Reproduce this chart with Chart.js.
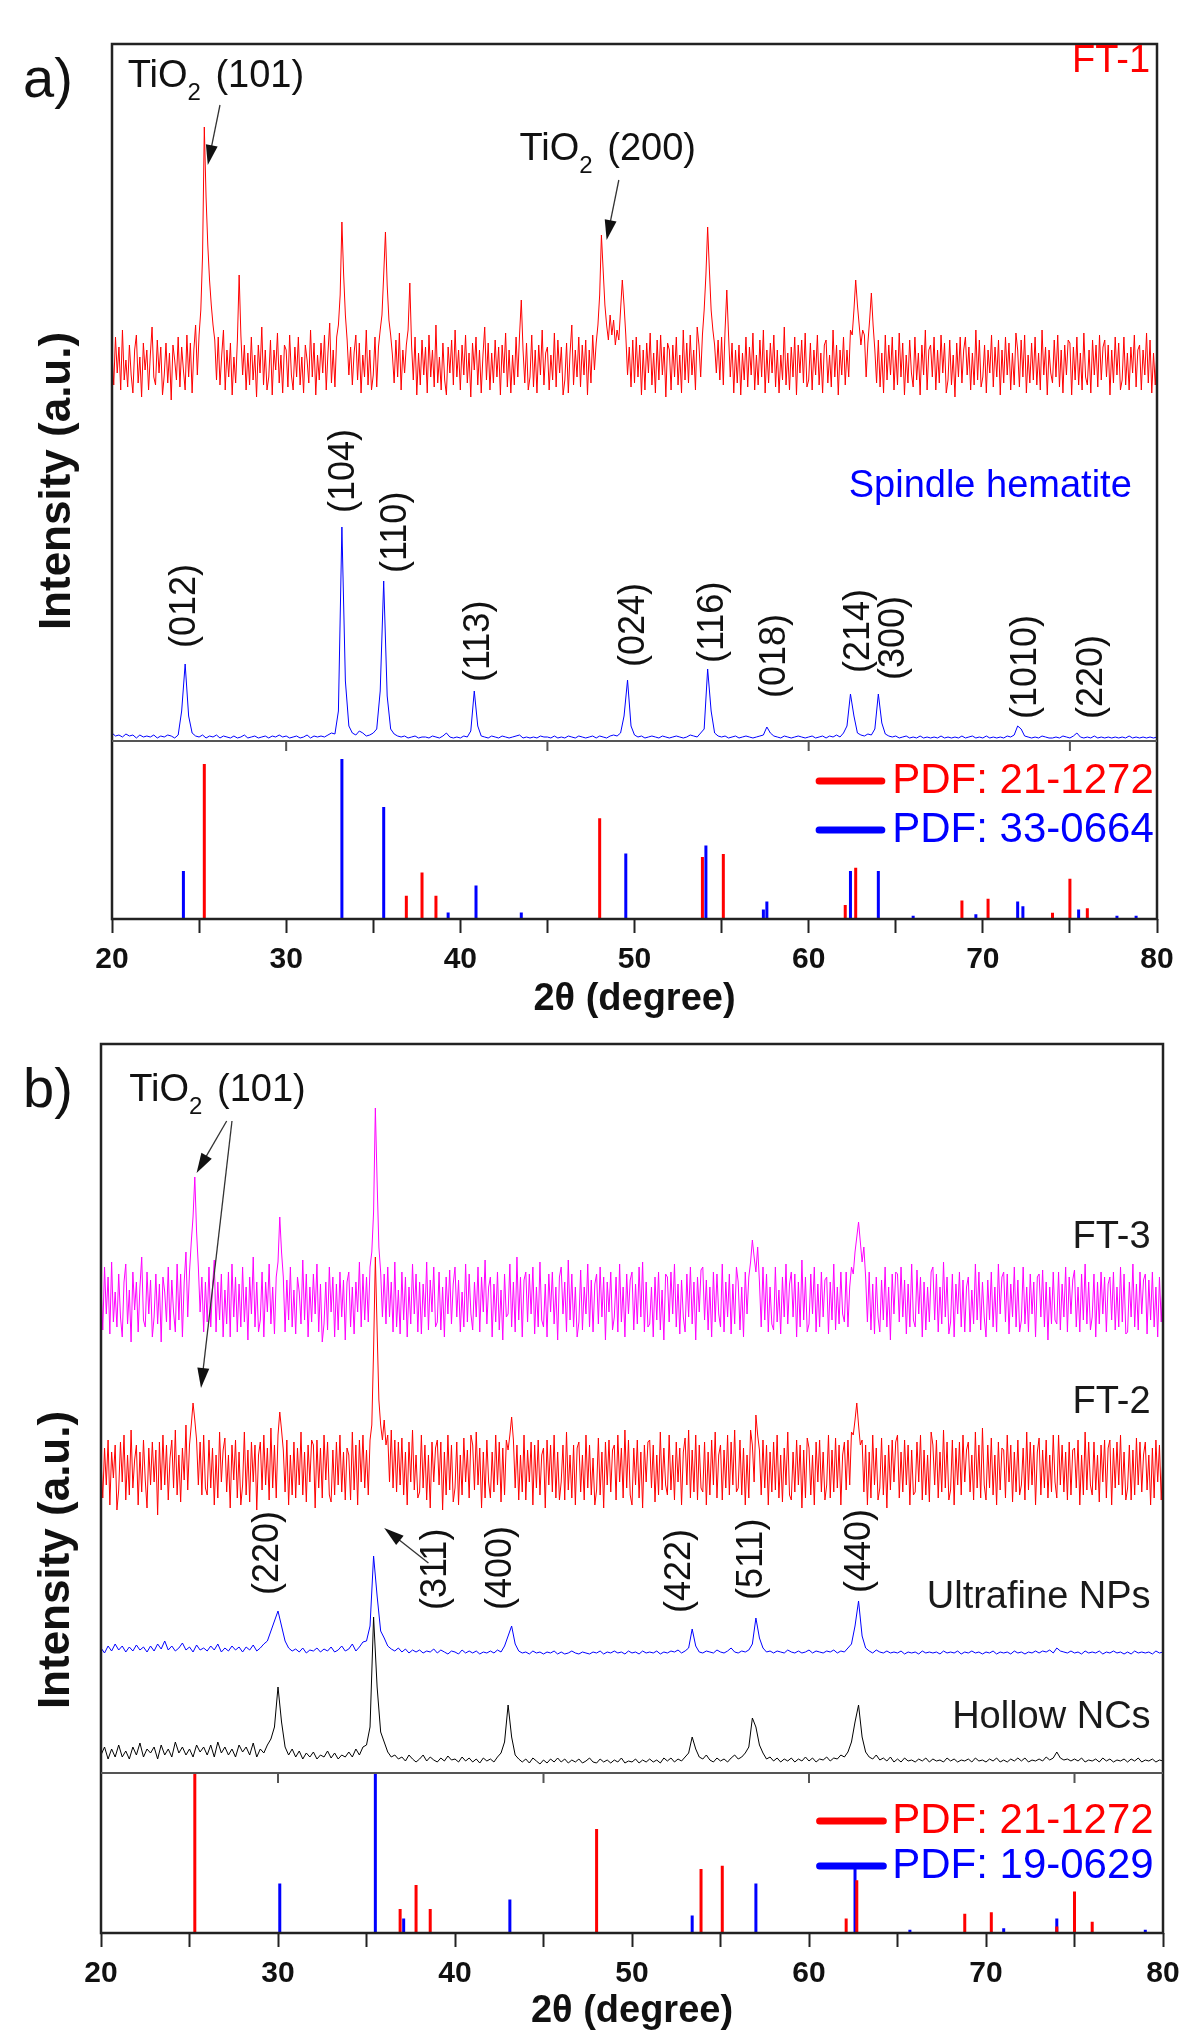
<!DOCTYPE html>
<html>
<head>
<meta charset="utf-8">
<script src="https://cdn.jsdelivr.net/npm/chart.js@4.4.0/dist/chart.umd.min.js"></script>
<style>
html, body { margin: 0; padding: 0; background: #fff; }
canvas { display: block; }
</style>
</head>
<body>
<canvas id="chartA" width="1200" height="1020"></canvas>
<canvas id="chartB" width="1200" height="1020"></canvas>
<script>
// 2-theta grids of the scans, 20..80 deg (fine 0.1 deg, coarse 0.2 deg)
var angFine = [], angCoarse = [];
for (var i = 0; i <= 600; i++) angFine.push(Math.round((20 + i * 0.1) * 10) / 10);
for (var j = 0; j <= 300; j++) angCoarse.push(Math.round((20 + j * 0.2) * 10) / 10);

var ft1 = [
  12,-20,28,-8,18,-25,35,-15,5,-22,
  20,-10,-28,15,30,-18,8,-32,22,-5,
  15,-25,10,38,-12,-20,25,-8,18,-30,
  -10,22,-18,12,-35,20,5,-15,28,-22,
  18,-5,-25,30,-12,22,-28,15,40,-10,
  30,55,110,238,168,120,85,60,40,25,
  -15,28,-20,10,35,-25,15,-12,22,-30,
  8,-18,25,90,30,-10,20,-25,12,-20,
  28,-15,10,-32,20,-8,38,-20,15,-25,
  -12,25,-30,15,-5,32,-18,10,-28,20,
  15,-22,30,-10,-25,18,-12,28,-20,8,
  -28,20,5,-18,35,-12,22,-30,10,-15,
  22,-8,30,-25,12,42,-18,15,-22,28,
  40,70,143,90,50,25,-10,18,-20,12,
  30,-15,22,-28,10,-12,35,-20,15,-25,
  -10,28,-22,18,35,50,90,133,80,45,
  30,10,-18,25,-12,32,-25,15,-8,20,
  35,82,20,-15,28,-30,12,-20,25,-10,
  18,-28,30,-12,15,-22,40,-18,8,-25,
  22,-15,-30,18,-8,25,-20,35,-12,15,
  -25,20,-10,30,-18,12,-32,22,-5,28,
  -20,15,-28,10,38,-15,22,-25,12,-18,
  25,-12,18,-30,20,-8,32,-22,15,-28,
  10,-20,28,-12,30,65,15,-18,22,-25,
  -12,30,-22,15,-28,20,-10,35,-20,12,
  18,-25,10,-15,32,-22,25,-8,18,-30,
  -15,22,-28,12,40,-20,15,-12,28,-22,
  20,-10,25,-30,15,-18,30,-5,22,40,
  70,130,95,60,40,25,50,30,45,20,
  35,25,55,85,60,30,-10,18,-22,25,
  -18,28,-12,20,-30,15,-25,22,-8,32,
  -20,12,-28,25,-15,30,-10,18,-32,22,
  15,-25,20,-12,28,-20,10,-28,35,-15,
  22,-18,30,-10,15,-25,38,20,-12,30,
  55,90,138,95,55,35,20,-8,25,-15,
  28,-20,35,75,30,-12,22,-28,15,-18,
  20,-30,12,-15,28,-22,18,-10,32,-25,
  10,-20,25,-12,35,-28,15,-18,22,-8,
  30,-22,15,-28,10,-15,38,-20,12,-25,
  18,-12,28,-30,20,-8,25,-18,32,-22,
  -15,22,-25,15,-10,30,-20,12,-28,20,
  25,-18,10,-22,35,-12,20,-30,15,-10,
  28,-20,15,-12,35,30,55,85,60,40,
  20,35,30,-12,22,45,72,40,15,-18,
  25,-22,12,-28,30,-15,20,-10,28,-25,
  15,-20,32,-12,22,-30,10,-18,25,-8,
  -22,28,-15,12,-30,20,-10,35,-25,15,
  20,-12,28,-25,15,-18,30,-8,22,-28,
  -15,25,-20,10,-32,22,-12,28,-18,15,
  28,-10,18,-25,12,-20,35,-15,25,-22,
  -12,20,-28,15,-8,30,-22,18,-12,25,
  -30,15,-18,28,-10,22,-25,12,-20,32,
  15,-22,25,-12,30,-28,10,-18,22,-15,
  28,-20,12,-25,35,-10,18,-30,15,-8,
  -18,25,-12,30,-22,15,-28,20,-10,25,
  22,-30,18,-15,28,-20,12,-25,32,-12,
  -20,15,-28,25,-10,20,-22,30,-15,18,
  25,-12,20,-30,15,-18,28,-10,22,-25,
  -15,28,-20,12,-25,18,-8,30,-22,15,
  20,-25,15,-10,32,-18,25,-28,12,-20,
  15
];

// panel a, spindle hematite (0.2 deg)
var hema = [
  8,5,6,4,7, 5,6,3,6,4, 5,4,6,3,5, 4,6,5,3,6,
  30,77,25,8,5, 4,6,3,5,4, 6,3,5,4,3, 5,3,4,6,3,
  4,5,3,4,5, 3,5,4,6,4, 5,3,4,5,3, 4,6,3,5,4,
  5,4,6,8,7, 30,214,60,15,8, 6,10,8,5,6, 8,12,50,160,45,
  12,7,5,4,5, 3,4,5,3,4, 4,3,5,4,3, 5,8,4,3,4,
  3,5,4,10,50, 15,5,4,3,5, 4,3,5,4,3, 4,5,6,3,4,
  3,4,3,5,4, 4,3,5,3,4, 3,5,4,3,5, 4,3,4,5,3,
  5,4,3,5,6, 5,8,25,61,15, 6,4,5,3,4, 5,4,3,5,4,
  3,4,5,4,3, 4,6,5,4,8, 12,72,30,8,5, 4,5,3,4,5,
  3,4,5,4,3, 4,5,6,14,8, 5,4,3,5,4, 3,4,5,4,3,
  4,5,3,4,5, 3,5,4,6,4, 8,15,47,25,8, 6,5,7,6,12,
  47,18,7,5,4, 5,3,4,5,3, 4,3,5,3,4, 3,4,3,5,3,
  4,3,4,3,5, 3,4,5,3,4, 3,5,3,4,3, 4,3,5,4,6,
  15,12,5,4,3, 4,3,5,4,3, 3,4,3,5,4, 3,5,8,4,3,
  4,3,5,3,4, 3,4,3,4,3, 4,3,5,3,4, 3,4,3,4,3,
  4
];

// panel b, FT-3 (0.1 deg)
var ft3 = [
  18,-28,35,-12,25,-32,40,-20,10,-25,
  28,-15,-35,20,38,-22,12,-40,30,-8,
  20,-30,15,45,-18,-25,30,-12,22,-35,
  -15,28,-22,18,-40,25,10,-20,35,-28,
  22,-10,-30,38,-18,28,-35,20,50,-15,
  30,60,85,125,70,35,-10,25,-30,20,
  -20,35,-25,15,42,-30,20,-18,28,-35,
  12,-22,30,-35,38,-15,25,-30,18,-25,
  35,-20,15,-38,25,-12,45,-25,20,-30,
  -18,30,-35,20,-10,38,-22,15,-32,25,
  40,85,50,25,-30,22,-18,35,-25,12,
  -32,25,10,-22,42,-18,28,-35,15,-20,
  28,-12,38,-30,18,-40,-22,20,-28,35,
  -10,25,-35,18,-28,30,-15,22,-38,20,
  30,-25,15,-32,20,-10,40,-25,28,-18,
  25,-20,35,50,90,194,120,55,30,-15,
  28,-22,35,-15,20,-30,40,-25,12,-32,
  30,-18,25,-35,15,-22,38,-12,28,-30,
  20,-32,18,-15,40,-28,22,-10,35,-25,
  -20,30,-28,15,-35,25,-12,32,-22,18,
  35,-15,22,-30,10,-25,38,-20,28,-12,
  -28,20,-15,35,-30,25,-10,42,-22,15,
  25,-35,18,-20,30,-28,12,-38,28,-15,
  -12,38,-25,20,-30,45,-18,25,-35,22,
  30,-20,28,-12,35,-32,15,-25,40,-18,
  -25,18,-35,28,-10,30,-22,15,-38,25,
  35,-12,20,-30,42,-18,28,-25,15,-35,
  -20,32,-28,15,-12,38,-25,22,-30,18,
  28,-22,35,-15,25,-38,20,-10,30,-28,
  -15,25,-30,38,-20,15,-35,28,-12,22,
  30,-28,18,-22,35,-15,40,-30,20,-25,
  -22,15,-35,25,-18,30,-28,12,-38,28,
  25,-20,30,-12,38,-25,18,-32,22,-15,
  -30,28,-15,35,-22,20,-38,25,-10,32,
  35,-18,22,-28,15,-35,30,-20,28,-12,
  -25,38,-30,20,-15,28,-32,18,-22,35,
  20,-28,15,-35,30,-12,25,40,62,45,
  30,55,20,-25,35,-18,28,-30,15,-22,
  -28,35,-20,12,-32,25,-15,38,-22,18,
  30,-15,28,-35,20,-25,42,-18,25,-30,
  -22,28,-12,35,-30,18,-25,30,-15,22,
  25,-32,20,-18,38,-28,15,-22,30,-12,
  -20,30,-25,15,35,28,50,65,80,60,
  40,55,25,-20,30,-28,18,-32,25,-15,
  -30,22,-18,35,-25,15,-38,28,-12,30,
  28,-20,35,-15,22,-32,18,-25,38,-18,
  -25,32,-12,25,-35,20,-28,15,-20,30,
  35,-18,28,-30,15,-22,40,-15,25,-32,
  -20,28,-35,18,-12,30,-25,22,-30,15,
  25,-30,12,-22,38,-18,30,-28,20,-15,
  -35,22,-18,30,-25,15,-30,38,-12,25,
  30,-20,28,-32,18,-15,35,-25,22,-30,
  -18,35,-22,15,-30,28,-12,20,-35,25,
  28,-15,32,-25,20,-38,15,-22,30,-18,
  -22,30,-28,18,-15,35,-30,25,-12,22,
  32,-25,15,-30,28,-18,38,-22,20,-28,
  -15,28,-35,20,-22,30,-12,25,-30,18,
  25,-18,30,-28,15,-25,35,-20,28,-32,
  -30,20,-15,38,-25,18,-28,30,-12,22,
  28,-32,22,-18,30,-25,15,-35,25,-20,
  20
];

// panel b, FT-2 (0.1 deg)
var ft2 = [
  10,-28,22,-15,30,-35,18,-8,25,-40,
  -20,28,-12,35,-30,15,-25,40,-18,10,
  25,-35,18,-22,30,-10,-38,22,-15,28,
  -12,20,-45,28,-20,35,-15,25,-30,12,
  30,-18,40,-25,15,-32,22,-10,45,-20,
  25,45,67,50,30,-15,28,-25,35,-18,
  -25,30,-18,22,-35,15,-28,38,-12,20,
  32,-22,15,-38,25,-10,30,-28,18,-35,
  -15,38,-25,20,-32,28,-12,25,-40,15,
  28,-20,35,-15,22,-30,42,-18,25,-28,
  35,58,40,20,-22,30,-35,15,-25,28,
  -28,22,-15,38,-25,18,-32,25,-12,30,
  25,-38,30,-18,22,-28,35,-10,28,-25,
  -32,20,-25,28,-15,35,-22,18,-30,22,
  15,-30,38,-20,25,-35,30,-12,35,-18,
  20,-25,30,45,120,213,140,70,45,30,
  50,25,35,-12,40,-18,30,-22,28,-15,
  32,-25,18,-35,28,-12,40,-20,15,-28,
  -22,35,-18,25,-30,15,-38,28,-12,22,
  30,-15,28,-40,18,-25,35,-20,25,-32,
  -18,28,-35,15,-25,32,-12,20,-28,35,
  25,-20,38,-15,22,-38,18,-28,30,-12,
  -28,18,-22,35,-15,28,-32,22,-25,30,
  20,35,53,30,-18,25,-30,15,-22,35,
  -30,20,-12,28,-35,25,-18,30,-25,15,
  22,-38,30,-15,25,-22,35,-28,18,-30,
  -12,25,-30,38,-20,15,-28,25,-35,22,
  28,-22,15,-30,35,-18,25,-25,12,-35,
  -20,32,-25,18,-38,28,-15,30,-22,20,
  25,-30,35,-12,22,-28,40,-18,30,-25,
  -35,22,-15,30,-28,18,-38,25,-12,28,
  30,-18,25,-32,15,-25,38,-20,22,-15,
  -25,35,-20,15,-30,28,-12,22,-35,18,
  32,-15,40,-28,20,-22,35,-30,25,-18,
  -22,28,-35,18,-25,30,-15,38,-28,15,
  25,-30,20,-18,35,-25,28,-15,40,-22,
  -18,30,-25,22,-35,15,-28,40,25,-12,
  55,35,20,-25,30,-18,25,-35,18,-22,
  28,-20,35,-28,15,-32,22,-15,38,-25,
  -30,18,-22,30,-15,25,-38,20,-28,32,
  22,-25,15,-35,28,-12,30,-22,18,-30,
  -15,35,-28,20,-22,32,-18,25,-35,15,
  28,-20,30,-15,38,35,50,67,45,25,
  30,-22,25,-35,18,-28,35,-15,22,-30,
  -18,32,-25,15,-38,25,-20,30,-12,28,
  35,-28,18,-22,30,-15,25,-35,20,-25,
  -22,28,-12,35,-30,20,-25,15,-32,38,
  25,-15,30,-28,18,-22,40,-18,28,-30,
  -20,30,-35,22,-15,28,-25,35,-12,20,
  28,-22,15,-30,38,-18,25,-28,42,-15,
  -30,25,-18,32,-25,15,-35,28,-20,22,
  20,-28,35,-12,25,-32,18,-22,30,-25,
  -15,22,-30,38,-20,28,-15,25,-35,18,
  32,-25,20,-18,30,-28,15,-22,35,-12,
  -28,35,-15,25,-22,18,-30,28,-25,20,
  22,-18,30,-35,15,-25,38,-20,28,-15,
  -25,28,-20,15,-32,25,-12,30,-28,22,
  30,-35,22,-18,28,-15,35,-25,18,-30,
  -18,25,-30,20,-25,32,-15,28,-22,15,
  28,-20,15,-35,22,-28,30,-12,25,-30,
  18
];

// panel b, ultrafine NPs (0.2 deg)
var ultra = [
  8,3,10,5,12, 6,10,4,9,5, 11,6,9,4,10, 5,12,7,15,6,
  10,5,8,13,6, 9,4,11,6,8, 5,10,6,12,4, 8,5,10,6,9,
  4,9,6,11,5, 8,12,15,25,35, 45,30,15,8,5, 7,4,8,3,6,
  5,8,4,7,5, 9,4,6,10,5, 7,12,5,9,14, 15,30,100,60,25,
  18,10,7,5,8, 4,7,3,6,4, 6,3,5,4,7, 3,6,4,2,5,
  4,2,6,3,5, 3,5,2,4,3, 5,3,6,4,10, 20,30,12,5,3,
  4,2,5,3,4, 2,4,3,5,2, 4,2,3,5,3, 2,4,3,2,4,
  3,5,2,4,3, 5,3,4,2,5, 3,4,2,5,3, 4,3,5,2,4,
  3,5,4,6,3, 5,8,27,10,4, 3,5,4,3,6, 4,3,5,8,4,
  3,5,4,6,12, 38,18,8,4,5, 3,5,4,3,6, 4,3,5,3,4,
  6,3,5,4,3, 5,4,6,3,5, 4,8,12,30,55, 20,8,5,3,6,
  4,3,5,3,4, 3,5,2,4,3, 4,2,5,3,4, 3,4,2,5,3,
  4,3,5,2,4, 3,5,3,4,2, 4,3,5,2,4, 3,4,2,5,3,
  4,2,4,3,5, 3,5,4,6,3, 8,5,4,3,5, 3,4,2,5,3,
  4,3,5,2,4, 3,5,3,4,2, 4,2,5,3,4, 3,4,2,5,3,
  4
];

// panel b, hollow NCs (0.2 deg)
var hollow = [
  12,20,8,18,10, 22,10,16,8,20, 12,24,10,18,14, 20,8,22,12,18,
  10,25,14,20,12, 18,10,22,15,20, 12,22,10,25,14, 20,12,18,10,22,
  15,20,12,24,10, 18,14,22,28,40, 80,45,20,12,18, 10,16,8,14,10,
  15,8,12,10,16, 9,14,8,12,10, 15,10,18,12,20, 22,40,150,80,35,
  25,15,10,12,8, 10,6,12,8,5, 8,12,6,10,7, 5,9,6,11,7,
  8,5,10,6,9, 5,8,4,9,6, 8,5,10,14,25, 62,30,12,8,5,
  8,4,9,6,3, 7,4,8,5,9, 5,8,4,7,5, 8,4,6,9,5,
  4,8,5,7,4, 7,5,9,4,6, 5,8,4,7,5, 8,5,7,4,9,
  6,9,5,8,6, 10,14,30,18,10, 8,12,7,5,9, 6,8,5,9,12,
  8,10,14,20,49, 40,22,14,8,10, 6,9,5,8,6, 9,5,8,6,10,
  6,9,5,8,7, 10,6,9,8,12, 10,15,25,45,62, 30,15,10,8,12,
  7,9,6,10,5, 8,5,9,6,7, 5,8,6,9,5, 8,6,7,5,9,
  6,8,5,7,6, 8,5,9,6,7, 5,8,6,9,5, 7,5,8,6,9,
  6,9,5,7,6, 8,6,10,7,9, 15,9,7,8,6, 8,6,9,5,7,
  6,8,5,9,6, 8,5,7,6,8, 5,8,6,9,5, 7,6,8,5,7,
  6
];

// reference patterns (PDF cards), relative intensity in %
var anataseAngles = [25.3, 36.9, 37.8, 38.6, 48.0, 53.9, 55.1, 62.1, 62.7, 68.8, 70.3, 74.0, 75.0, 76.0];
var anataseInt = [100, 15, 30, 15, 65, 40, 42, 9, 33, 12, 13, 4, 26, 7];
var hematiteAngles = [24.1, 33.2, 35.6, 39.3, 40.9, 43.5, 49.5, 54.1, 57.4, 57.6, 62.4, 64.0, 66.0, 69.6, 72.0, 72.3, 75.5, 77.7, 78.8];
var hematiteInt = [30, 100, 70, 4, 21, 4, 41, 46, 6, 11, 30, 30, 2, 3, 11, 8, 6, 2, 2];
var magnetiteAngles = [30.1, 35.5, 37.1, 43.1, 53.4, 57.0, 62.6, 65.7, 71.0, 74.0, 75.0, 79.0];
var magnetiteInt = [31, 100, 9, 21, 11, 31, 41, 2, 3, 9, 3, 2];

var xTicks = [20, 30, 40, 50, 60, 70, 80];

var hklA = ['(012)', '(104)', '(110)', '(113)', '(024)', '(116)', '(018)', '(214)', '(300)', '(1010)', '(220)'];
var hklB = ['(220)', '(311)', '(400)', '(422)', '(511)', '(440)'];

var FONT = '"Liberation Sans", Arial, sans-serif';
var RED = '#ff0000', BLUE = '#0000ff', MAG = '#ff00ff', DARK = '#1a1a1a';

function trace(grid, vals, offset, color) {
    return {
        data: grid.map(function (a, i) { return { x: a, y: offset + vals[i] }; }),
        borderColor: color,
        borderWidth: 1,
        pointRadius: 0,
        tension: 0,
    };
}

function sticks(pos, ints, factor, color) {
    var d = [];
    pos.forEach(function (a, i) {
        d.push({ x: a, y: 0 }, { x: a, y: ints[i] * factor }, { x: a, y: null });
    });
    return { data: d, borderColor: color, borderWidth: 3, pointRadius: 0, spanGaps: false };
}

function drawChem(ctx, x, y, parts, size) {
    var cx = x;
    ctx.textAlign = 'left';
    ctx.textBaseline = 'middle';
    parts.forEach(function (p) {
        var s = p[1] ? Math.round(size * 0.62) : size;
        ctx.font = s + 'px ' + FONT;
        ctx.fillText(p[0], cx, p[1] ? y + size * 0.42 : y);
        cx += ctx.measureText(p[0]).width + (p[1] ? 4 : 0);
    });
}

function arrow(ctx, x1, y1, x2, y2) {
    var ang = Math.atan2(y2 - y1, x2 - x1), L = 20, W = 6;
    ctx.strokeStyle = '#333';
    ctx.lineWidth = 1.3;
    ctx.beginPath();
    ctx.moveTo(x1, y1);
    ctx.lineTo(x2 - L * 0.8 * Math.cos(ang), y2 - L * 0.8 * Math.sin(ang));
    ctx.stroke();
    ctx.fillStyle = '#111';
    ctx.beginPath();
    ctx.moveTo(x2, y2);
    ctx.lineTo(x2 - L * Math.cos(ang) + W * Math.sin(ang), y2 - L * Math.sin(ang) - W * Math.cos(ang));
    ctx.lineTo(x2 - L * Math.cos(ang) - W * Math.sin(ang), y2 - L * Math.sin(ang) + W * Math.cos(ang));
    ctx.closePath();
    ctx.fill();
}

function vtext(ctx, t, x, y, size) {
    ctx.save();
    ctx.translate(x, y);
    ctx.rotate(-Math.PI / 2);
    ctx.font = size + 'px ' + FONT;
    ctx.textAlign = 'left';
    ctx.textBaseline = 'middle';
    ctx.fillText(t, 0, 0);
    ctx.restore();
}

function frameAndSeparator(chart, sepValue) {
    var ctx = chart.ctx, ca = chart.chartArea, xs = chart.scales.x, ys = chart.scales.y;
    ctx.save();
    ctx.strokeStyle = '#222';
    ctx.lineWidth = 2.5;
    ctx.strokeRect(ca.left, ca.top, ca.right - ca.left, ca.bottom - ca.top);
    var sy = ys.getPixelForValue(sepValue);
    ctx.strokeStyle = '#555';
    ctx.lineWidth = 2;
    ctx.beginPath();
    ctx.moveTo(ca.left, sy);
    ctx.lineTo(ca.right, sy);
    [30, 45, 60, 75].forEach(function (v) {
        var px = xs.getPixelForValue(v);
        ctx.moveTo(px, sy);
        ctx.lineTo(px, sy + 10);
    });
    ctx.stroke();
    ctx.restore();
}

function legend(chart, items, x0, x1, xt, size) {
    var ctx = chart.ctx, xs = chart.scales.x, ys = chart.scales.y;
    ctx.save();
    items.forEach(function (it) {
        var y = ys.getPixelForValue(it.v);
        ctx.strokeStyle = it.color;
        ctx.lineWidth = 7;
        ctx.lineCap = 'round';
        ctx.beginPath();
        ctx.moveTo(xs.getPixelForValue(x0), y);
        ctx.lineTo(xs.getPixelForValue(x1), y);
        ctx.stroke();
        ctx.fillStyle = it.color;
        ctx.font = size + 'px ' + FONT;
        ctx.textAlign = 'left';
        ctx.textBaseline = 'middle';
        ctx.fillText(it.text, xs.getPixelForValue(xt), y);
    });
    ctx.restore();
}

function yTitle(chart, x, y) {
    var ctx = chart.ctx;
    ctx.save();
    ctx.translate(x, y);
    ctx.rotate(-Math.PI / 2);
    ctx.font = 'bold 44px ' + FONT;
    ctx.fillStyle = '#111';
    ctx.textAlign = 'center';
    ctx.textBaseline = 'middle';
    ctx.fillText('Intensity (a.u.)', 0, 0);
    ctx.restore();
}

var notesA = {
    id: 'notesA',
    afterDatasetsDraw: function (chart) {
        var ctx = chart.ctx, xs = chart.scales.x, ys = chart.scales.y;
        var X = function (v) { return xs.getPixelForValue(v); };
        var Y = function (v) { return ys.getPixelForValue(v); };
        frameAndSeparator(chart, 178);
        ctx.save();
        ctx.fillStyle = '#111';
        ctx.font = '56px ' + FONT;
        ctx.textAlign = 'center';
        ctx.textBaseline = 'middle';
        ctx.fillText('a)', 48, 82);
        drawChem(ctx, X(20.9), Y(842), [['TiO', 0], ['2', 1], [' (101)', 0]], 38);
        drawChem(ctx, X(43.4), Y(769), [['TiO', 0], ['2', 1], [' (200)', 0]], 38);
        arrow(ctx, X(26.2), Y(814), X(25.5), Y(754));
        arrow(ctx, X(49.1), Y(739), X(48.4), Y(679));
        ctx.fillStyle = RED;
        ctx.font = '38px ' + FONT;
        ctx.textAlign = 'right';
        ctx.fillText('FT-1', X(79.6), Y(857));
        ctx.fillStyle = BLUE;
        ctx.textAlign = 'left';
        ctx.fillText('Spindle hematite', X(62.3), Y(432));
        ctx.fillStyle = '#111';
        var pos = [24.2, 33.3, 36.3, 41.1, 50.0, 54.5, 58.1, 62.9, 64.9, 72.5, 76.3];
        var base = [271, 406, 346, 237, 252, 256, 221, 246, 239, 200, 200];
        hklA.forEach(function (t, i) { vtext(ctx, t, X(pos[i]), Y(base[i]), 36); });
        ctx.restore();
        legend(chart, [
            { text: 'PDF: 21-1272', color: RED, v: 138 },
            { text: 'PDF: 33-0664', color: BLUE, v: 89 },
        ], 60.6, 64.2, 64.8, 42);
        yTitle(chart, 58, 481);
    },
};

var notesB = {
    id: 'notesB',
    afterDatasetsDraw: function (chart) {
        var ctx = chart.ctx, xs = chart.scales.x, ys = chart.scales.y;
        var X = function (v) { return xs.getPixelForValue(v); };
        var Y = function (v) { return ys.getPixelForValue(v); };
        frameAndSeparator(chart, 160);
        ctx.save();
        ctx.fillStyle = '#111';
        ctx.font = '56px ' + FONT;
        ctx.textAlign = 'center';
        ctx.textBaseline = 'middle';
        ctx.fillText('b)', 48, 72);
        drawChem(ctx, X(21.6), Y(842), [['TiO', 0], ['2', 1], [' (101)', 0]], 38);
        arrow(ctx, X(27.1), Y(812), X(25.4), Y(760));
        arrow(ctx, X(27.4), Y(812), X(25.65), Y(545));
        arrow(ctx, X(38.5), Y(370), X(36.0), Y(405));
        ctx.fillStyle = DARK;
        ctx.font = '38px ' + FONT;
        ctx.textAlign = 'right';
        ctx.fillText('FT-3', X(79.3), Y(695));
        ctx.fillText('FT-2', X(79.3), Y(530));
        ctx.fillText('Ultrafine NPs', X(79.3), Y(335));
        ctx.fillText('Hollow NCs', X(79.3), Y(215));
        ctx.fillStyle = '#111';
        var pos = [29.43, 38.93, 42.6, 52.7, 56.8, 62.9];
        var base = [338, 323, 323, 320, 333, 340];
        hklB.forEach(function (t, i) { vtext(ctx, t, X(pos[i]), Y(base[i]), 36); });
        ctx.restore();
        legend(chart, [
            { text: 'PDF: 21-1272', color: RED, v: 112 },
            { text: 'PDF: 19-0629', color: BLUE, v: 67 },
        ], 60.6, 64.2, 64.7, 42);
        yTitle(chart, 57, 540);
    },
};

function makeOptions(yMax, padTop, padRight, yWidth, xHeight, titlePad) {
    return {
        responsive: false,
        animation: false,
        events: [],
        layout: { padding: { top: padTop, right: padRight, left: 0, bottom: 0 } },
        plugins: { legend: { display: false }, tooltip: { enabled: false } },
        scales: {
            x: {
                type: 'linear',
                min: 20,
                max: 80,
                afterFit: function (s) { s.height = xHeight; },
                afterBuildTicks: function (s) {
                    var t = [];
                    for (var v = 20; v <= 80; v += 5) t.push({ value: v });
                    s.ticks = t;
                },
                ticks: {
                    autoSkip: false,
                    maxRotation: 0,
                    padding: 12,
                    color: '#111',
                    font: { family: FONT, size: 30, weight: 'bold', lineHeight: 1 },
                    callback: function (v) { return xTicks.indexOf(v) >= 0 ? String(v) : ''; },
                },
                grid: { display: true, drawOnChartArea: false, drawTicks: true, tickLength: 14, tickColor: '#222', tickWidth: 2 },
                border: { display: false },
                title: {
                    display: true,
                    text: '2θ (degree)',
                    color: '#111',
                    font: { family: FONT, size: 38, weight: 'bold', lineHeight: 1 },
                    padding: { top: 0, bottom: titlePad },
                },
            },
            y: {
                type: 'linear',
                min: 0,
                max: yMax,
                afterFit: function (s) { s.width = yWidth; },
                ticks: { display: false },
                grid: { display: false },
                border: { display: false },
            },
        },
    };
}

new Chart(document.getElementById('chartA').getContext('2d'), {
    type: 'line',
    data: {
        datasets: [
            sticks(anataseAngles, anataseInt, 1.55, RED),
            sticks(hematiteAngles, hematiteInt, 1.6, BLUE),
            trace(angCoarse, hema, 178, BLUE),
            trace(angFine, ft1, 554, RED),
        ],
    },
    options: makeOptions(875, 44, 43, 112, 101, 1),
    plugins: [notesA],
});

new Chart(document.getElementById('chartB').getContext('2d'), {
    type: 'line',
    data: {
        datasets: [
            sticks(anataseAngles, anataseInt, 1.6, RED),
            sticks(magnetiteAngles, magnetiteInt, 1.6, BLUE),
            trace(angCoarse, hollow, 166, '#000'),
            trace(angCoarse, ultra, 277, BLUE),
            trace(angFine, ft2, 463, RED),
            trace(angFine, ft3, 631, MAG),
        ],
    },
    options: makeOptions(889, 24, 37, 101, 107, 9),
    plugins: [notesB],
});
</script>
</body>
</html>
